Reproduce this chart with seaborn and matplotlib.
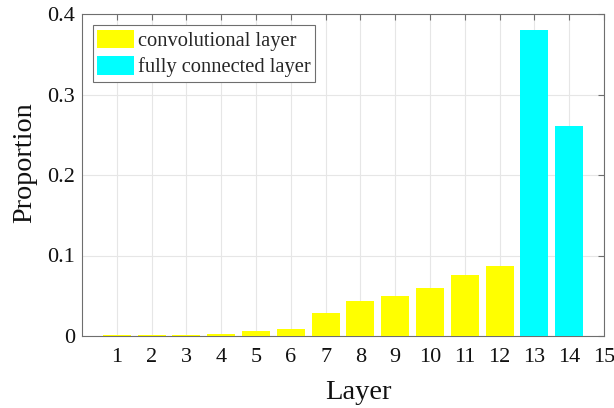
import matplotlib
matplotlib.use("Agg")
import matplotlib.pyplot as plt
import seaborn as sns
import pandas as pd

layers = list(range(1, 15))
proportions = [0.001, 0.0015, 0.0017, 0.002, 0.0058, 0.009, 0.0286, 0.043,
               0.0497, 0.0596, 0.0758, 0.087, 0.380, 0.261]
layer_types = ["convolutional layer"] * 12 + ["fully connected layer"] * 2
type_colors = {"convolutional layer": "#ffff00", "fully connected layer": "#00ffff"}
x_ticks = list(range(1, 16))
y_ticks = [0, 0.1, 0.2, 0.3, 0.4]
y_tick_labels = ["0", "0.1", "0.2", "0.3", "0.4"]

df = pd.DataFrame({"Layer": layers, "Proportion": proportions, "Type": layer_types})

sns.set_theme(style="white")
plt.rcParams["font.family"] = ["Liberation Serif", "DejaVu Serif"]

fig = plt.figure(figsize=(6.14, 4.08), dpi=100)
ax = fig.add_axes([82 / 614, 72 / 408, 522 / 614, 322 / 408])

sns.barplot(data=df, x="Layer", y="Proportion", hue="Type", palette=type_colors,
            native_scale=True, dodge=False, width=0.8, ax=ax, saturation=1,
            edgecolor="none", zorder=3)

ax.set_xlim(0, 15)
ax.set_ylim(0, 0.4)
ax.set_xticks(x_ticks)
ax.set_xticklabels([str(t) for t in x_ticks])
ax.set_yticks(y_ticks)
ax.set_yticklabels(y_tick_labels)

ax.grid(True, color="#e6e6e6", linewidth=0.8, zorder=0)
ax.set_axisbelow(True)
for s in ax.spines.values():
    s.set_color("#6e6e6e")
    s.set_linewidth(0.8)
    s.set_visible(True)
ax.tick_params(direction="in", length=4, width=0.8, color="#6e6e6e",
               top=True, right=True, labelsize=16, labelcolor="#111111")
ax.tick_params(axis="x", pad=9)
ax.tick_params(axis="y", pad=5)

ax.set_xlabel("Layer", fontsize=20.5, color="#111111")
ax.set_ylabel("Proportion", fontsize=20.3, color="#111111")
ax.xaxis.set_label_coords(0.529, -0.136)
ax.yaxis.set_label_coords(-0.085, 0.539)

leg = ax.legend(loc="upper left", bbox_to_anchor=(0.021, 0.965), fontsize=14.8,
                frameon=True, fancybox=False, edgecolor="#6e6e6e", framealpha=1,
                handlelength=1.8, handleheight=1.0, handletextpad=0.15,
                labelspacing=0.25, borderpad=0.22, borderaxespad=0)
leg.get_frame().set_linewidth(0.8)

fig.savefig("out.png", dpi=100)
